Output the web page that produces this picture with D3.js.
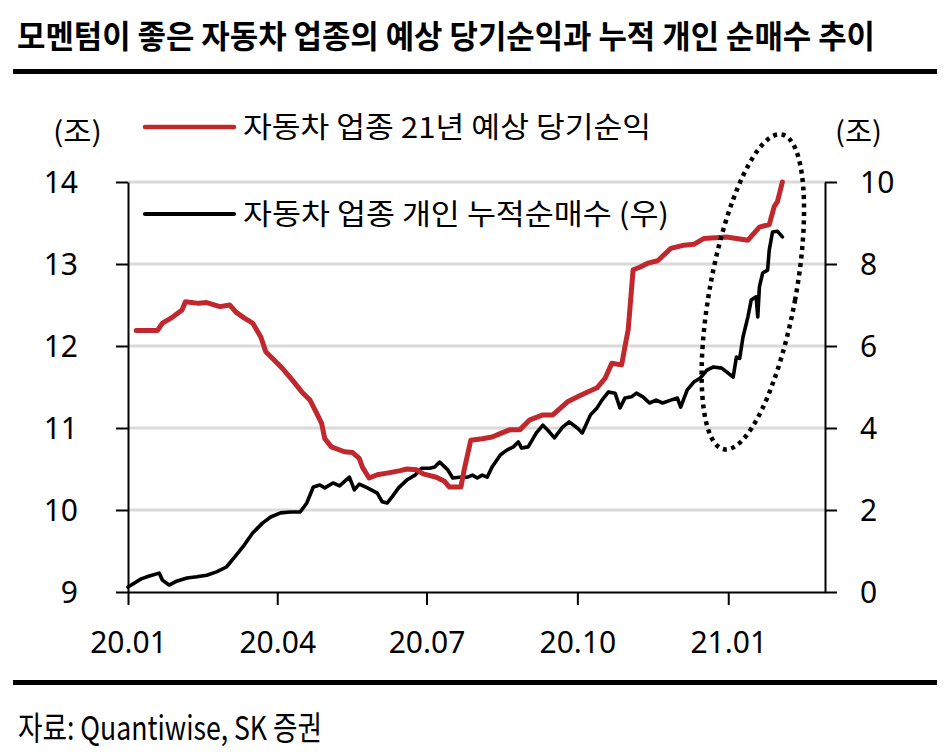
<!DOCTYPE html>
<html><head><meta charset="utf-8">
<script src="https://cdn.jsdelivr.net/npm/d3@7"></script>
<style>
html,body{margin:0;padding:0;background:#fff;}
svg{display:block;}
</style>
</head><body>
<div id="chart"></div>
<script>
// ---- data ----
const titleText = "모멘텀이 좋은 자동차 업종의 예상 당기순익과 누적 개인 순매수 추이";
const sourceText = "자료: Quantiwise, SK 증권";
const seriesNames = ["자동차 업종 21년 예상 당기순익", "자동차 업종 개인 누적순매수 (우)"];
const unitLabels = ["(조)", "(조)"];
const xTickDates = ["2020-01-01", "2020-04-01", "2020-07-01", "2020-10-01", "2021-01-01"];
const xTickLabels = ["20.01", "20.04", "20.07", "20.10", "21.01"];
const leftTicks = [9, 10, 11, 12, 13, 14];
const rightTicks = [0, 2, 4, 6, 8, 10];

const redDates = ["2020-01-06","2020-01-19","2020-01-22","2020-01-28","2020-02-03","2020-02-05","2020-02-13","2020-02-18","2020-02-26","2020-03-03","2020-03-07","2020-03-12","2020-03-17","2020-03-22","2020-03-25","2020-03-29","2020-04-04","2020-04-10","2020-04-16","2020-04-21","2020-04-25","2020-04-28","2020-04-30","2020-05-04","2020-05-12","2020-05-17","2020-05-21","2020-05-23","2020-05-27","2020-06-01","2020-06-07","2020-06-15","2020-06-19","2020-06-25","2020-06-29","2020-07-07","2020-07-12","2020-07-15","2020-07-22","2020-07-24","2020-07-28","2020-08-04","2020-08-10","2020-08-16","2020-08-21","2020-08-27","2020-09-02","2020-09-10","2020-09-16","2020-09-25","2020-10-03","2020-10-13","2020-10-18","2020-10-22","2020-10-28","2020-10-30","2020-11-01","2020-11-04","2020-11-08","2020-11-13","2020-11-19","2020-11-27","2020-12-05","2020-12-11","2020-12-17","2020-12-31","2021-01-13","2021-01-20","2021-01-26","2021-01-29","2021-01-31","2021-02-03"];
const redValues = [12.19,12.19,12.28,12.35,12.44,12.54,12.52,12.53,12.48,12.50,12.41,12.34,12.28,12.11,11.93,11.85,11.73,11.59,11.44,11.34,11.18,11.06,10.87,10.77,10.71,10.70,10.63,10.52,10.39,10.43,10.45,10.48,10.50,10.49,10.44,10.40,10.35,10.28,10.28,10.49,10.85,10.87,10.89,10.94,10.98,10.98,11.10,11.16,11.16,11.32,11.40,11.49,11.61,11.79,11.77,11.99,12.20,12.93,12.96,13.01,13.04,13.19,13.23,13.24,13.31,13.33,13.29,13.45,13.48,13.70,13.76,14.0];

const blackDates = ["2020-01-01","2020-01-05","2020-01-09","2020-01-14","2020-01-20","2020-01-22","2020-01-26","2020-01-31","2020-02-06","2020-02-12","2020-02-18","2020-02-24","2020-03-01","2020-03-06","2020-03-12","2020-03-17","2020-03-23","2020-03-28","2020-04-03","2020-04-09","2020-04-15","2020-04-19","2020-04-23","2020-04-27","2020-04-30","2020-05-05","2020-05-09","2020-05-15","2020-05-18","2020-05-21","2020-05-26","2020-06-01","2020-06-04","2020-06-07","2020-06-10","2020-06-14","2020-06-19","2020-06-24","2020-06-28","2020-07-03","2020-07-06","2020-07-09","2020-07-14","2020-07-17","2020-07-21","2020-07-26","2020-07-29","2020-08-01","2020-08-04","2020-08-07","2020-08-10","2020-08-15","2020-08-19","2020-08-23","2020-08-26","2020-08-28","2020-09-01","2020-09-06","2020-09-10","2020-09-14","2020-09-17","2020-09-22","2020-09-26","2020-10-01","2020-10-04","2020-10-09","2020-10-13","2020-10-16","2020-10-20","2020-10-24","2020-10-27","2020-10-30","2020-11-03","2020-11-06","2020-11-10","2020-11-14","2020-11-18","2020-11-22","2020-11-27","2020-12-01","2020-12-03","2020-12-07","2020-12-11","2020-12-15","2020-12-19","2020-12-23","2020-12-28","2020-12-31","2021-01-04","2021-01-06","2021-01-08","2021-01-10","2021-01-13","2021-01-15","2021-01-18","2021-01-19","2021-01-20","2021-01-22","2021-01-25","2021-01-26","2021-01-28","2021-01-31","2021-02-03"];
const blackValues = [0.12,0.22,0.32,0.39,0.46,0.29,0.17,0.27,0.34,0.37,0.41,0.49,0.61,0.85,1.15,1.44,1.68,1.83,1.93,1.95,1.95,2.17,2.56,2.61,2.54,2.66,2.59,2.80,2.49,2.63,2.54,2.41,2.20,2.17,2.32,2.54,2.73,2.85,3.02,3.02,3.05,3.17,2.98,2.78,2.80,2.80,2.85,2.78,2.85,2.80,3.05,3.34,3.46,3.54,3.66,3.51,3.54,3.88,4.07,3.90,3.76,4.02,4.15,4.00,3.88,4.32,4.49,4.68,4.88,4.85,4.49,4.73,4.76,4.85,4.76,4.61,4.68,4.61,4.68,4.73,4.51,4.93,5.12,5.22,5.41,5.49,5.46,5.37,5.24,5.73,5.70,6.22,6.71,7.12,7.20,6.71,7.44,7.78,7.85,8.34,8.78,8.80,8.66];

// highlight annotation (centre of dotted ellipse)
const highlightDate = "2021-01-16";
const highlightValue = 7.32;

// ---- drawing ----
const W = 949, H = 756;
const parse = d3.timeParse("%Y-%m-%d");
const svg = d3.select("#chart").append("svg").attr("width", W).attr("height", H);

const x = d3.scaleTime().domain([parse("2020-01-01"), parse("2021-03-01")]).range([128, 825]);
const yL = d3.scaleLinear().domain([9, 14]).range([592, 182]);
const yR = d3.scaleLinear().domain([0, 10]).range([592, 182]);

const sansCJK = "'Noto Sans CJK KR', 'Noto Sans', sans-serif";
const labelFont = "'Noto Sans', 'Noto Sans CJK KR', sans-serif";

// title
svg.append("text").attr("x", 17).attr("y", 48)
  .attr("font-family", sansCJK).attr("font-weight", 700).attr("font-size", 32)
  .attr("textLength", 858).attr("lengthAdjust", "spacingAndGlyphs")
  .attr("fill", "#000").text(titleText);
svg.append("rect").attr("x", 13).attr("y", 69).attr("width", 924).attr("height", 5).attr("fill", "#000");

// gridlines
svg.append("g").selectAll("line").data(leftTicks.filter(d => d > 9)).join("line")
  .attr("x1", 128).attr("x2", 825)
  .attr("y1", d => yL(d)).attr("y2", d => yL(d))
  .attr("stroke", "#d9d9d9").attr("stroke-width", 3);

// axes
const gl = svg.append("g").attr("transform", "translate(128,0)")
  .call(d3.axisLeft(yL).tickValues(leftTicks).tickFormat(d3.format("d")).tickSize(12).tickSizeOuter(0).tickPadding(38));
const gr = svg.append("g").attr("transform", "translate(825,0)")
  .call(d3.axisRight(yR).tickValues(rightTicks).tickFormat(d3.format("d")).tickSize(12).tickSizeOuter(0).tickPadding(23));
const gb = svg.append("g").attr("transform", "translate(0,592)")
  .call(d3.axisBottom(x).tickValues(xTickDates.map(parse)).tickFormat((d, i) => xTickLabels[i]).tickSize(13).tickSizeOuter(0).tickPadding(27));

[gl, gr, gb].forEach(g => {
  g.selectAll("path.domain").attr("stroke", "#000").attr("stroke-width", 2);
  g.selectAll(".tick line").attr("stroke", "#000").attr("stroke-width", 2);
  g.selectAll("text").attr("font-family", labelFont).attr("font-size", 30).attr("fill", "#000");
});
gl.selectAll("text").attr("dy", "0.36em");
gr.selectAll("text").attr("dy", "0.36em");

// units
svg.append("text").attr("x", 53).attr("y", 142).attr("font-family", sansCJK).attr("font-size", 28)
  .attr("textLength", 49).attr("lengthAdjust", "spacingAndGlyphs").text(unitLabels[0]);
svg.append("text").attr("x", 835).attr("y", 142).attr("font-family", sansCJK).attr("font-size", 28)
  .attr("textLength", 47).attr("lengthAdjust", "spacingAndGlyphs").text(unitLabels[1]);

// lines
const redData = redDates.map((d, i) => ({ date: parse(d), v: redValues[i] }));
const blackData = blackDates.map((d, i) => ({ date: parse(d), v: blackValues[i] }));

svg.append("path").datum(blackData)
  .attr("fill", "none").attr("stroke", "#000").attr("stroke-width", 3.6)
  .attr("stroke-linejoin", "round").attr("stroke-linecap", "round")
  .attr("d", d3.line().x(d => x(d.date)).y(d => yR(d.v)));

svg.append("path").datum(redData)
  .attr("fill", "none").attr("stroke", "#c0282d").attr("stroke-width", 5)
  .attr("stroke-linejoin", "round").attr("stroke-linecap", "round")
  .attr("d", d3.line().x(d => x(d.date)).y(d => yL(d.v)));

// legend
const legend = [
  { name: seriesNames[0], color: "#c0282d", w: 4.5, y: 127, len: 408 },
  { name: seriesNames[1], color: "#000", w: 4.2, y: 214, len: 426 }
];
legend.forEach(l => {
  svg.append("line").attr("x1", 145).attr("x2", 234).attr("y1", l.y).attr("y2", l.y)
    .attr("stroke", l.color).attr("stroke-width", l.w).attr("stroke-linecap", "round");
  svg.append("text").attr("x", 243).attr("y", l.y + 11)
    .attr("font-family", sansCJK).attr("font-size", 29)
    .attr("textLength", l.len).attr("lengthAdjust", "spacingAndGlyphs")
    .attr("fill", "#000").text(l.name);
});

// dotted ellipse highlight
svg.append("ellipse")
  .attr("transform", `translate(${x(parse(highlightDate))},${yR(highlightValue)}) rotate(10.4)`)
  .attr("rx", 43).attr("ry", 160)
  .attr("fill", "none").attr("stroke", "#000").attr("stroke-width", 4.5)
  .attr("stroke-dasharray", "4 4.5");

// bottom rule and source
svg.append("rect").attr("x", 13).attr("y", 680).attr("width", 924).attr("height", 5).attr("fill", "#000");
svg.append("text").attr("x", 18).attr("y", 740)
  .attr("font-family", sansCJK).attr("font-size", 33)
  .attr("textLength", 304).attr("lengthAdjust", "spacingAndGlyphs")
  .attr("fill", "#000").text(sourceText);
</script>
</body></html>
